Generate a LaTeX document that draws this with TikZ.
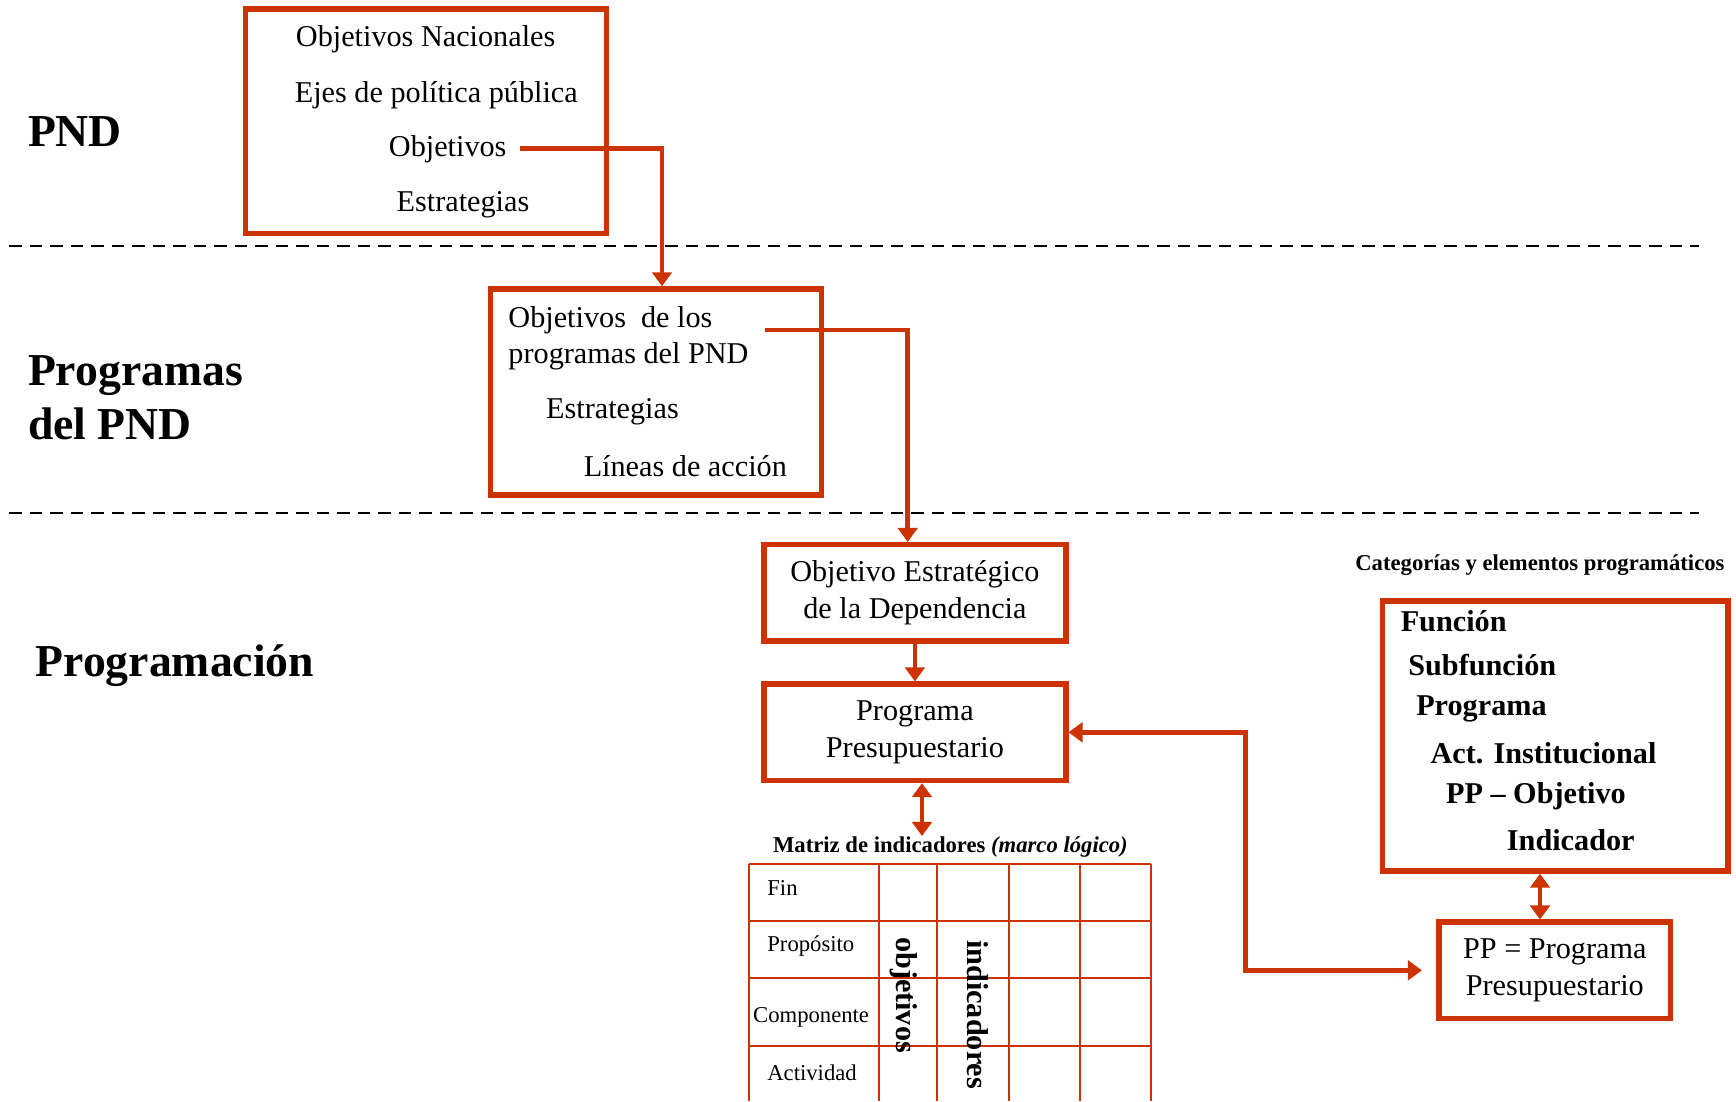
\documentclass[tikz,border=0pt]{standalone}
\usepackage{fontspec}
\setmainfont{Liberation Serif}
\usetikzlibrary{arrows.meta,positioning,calc}
\definecolor{pndred}{RGB}{204,51,0}

\begin{document}
\begin{tikzpicture}[x=0.2mm, y=-0.2mm,
    redbox/.style={draw=pndred, line width=1.05mm, inner sep=0pt},
    link/.style={draw=pndred, line width=0.95mm, >={Triangle[length=2.8mm, width=3.9mm]}},
    boxtxt/.style={font=\fontsize{17.2}{20.8}\selectfont, align=center},
    txt/.style={font=\fontsize{17.2}{20.8}\selectfont, inner sep=0pt, yshift=-0.6mm},
    bigtxt/.style={font=\fontsize{26}{31}\selectfont\bfseries, inner sep=0pt, align=left, yshift=-0.4mm},
    boldtxt/.style={font=\fontsize{17.2}{20.8}\selectfont\bfseries, inner sep=0pt, yshift=-0.6mm},
    smalltxt/.style={font=\fontsize{12.9}{15}\selectfont, inner sep=0pt, yshift=-0.4mm},
    every node/.style={text=black}]
    \useasboundingbox (0,0) rectangle (1736,1101);

    % Level separators
    \draw[line width=0.4mm, dash pattern=on 2.5mm off 1.6mm] (9,245.8) -- (1699,245.8);
    \draw[line width=0.4mm, dash pattern=on 2.5mm off 1.6mm] (9,512.6) -- (1699,512.6);

    % Level labels
    \node[bigtxt, anchor=west] (lpnd) at (27.7,129.5) {PND};
    \node[bigtxt, anchor=west] (lprog) at (27.7,395.7) {Programas\\del PND};
    \node[bigtxt, anchor=west] (lpresup) at (35.4,664) {Programación};

    % PND box
    \node[redbox, minimum width=72.2mm, minimum height=44.9mm] (pndbox) at (426.2,121.3) {};
    \node[txt, anchor=west] (pndnac) at (295.6,36.5) {Objetivos Nacionales};
    \node[txt, anchor=west] (pndejes) at (294.5,91.9) {Ejes de política pública};
    \node[txt, anchor=west] (pndobj) at (388.6,146.1) {Objetivos};
    \node[txt, anchor=west] (pndest) at (396.3,201.5) {Estrategias};

    % Programas del PND box
    \node[redbox, minimum width=66.2mm, minimum height=41.2mm] (progbox) at (655.9,391.9) {};
    \node[txt, anchor=west] (progobj) at (508.1,317.7) {Objetivos~ de los};
    \node[txt, anchor=west] (progpnd) at (508.1,353.1) {programas del PND};
    \node[txt, anchor=west] (progest) at (545.8,408.5) {Estrategias};
    \node[txt, anchor=west] (proglin) at (583.4,462.7) {Líneas de acción};

    % Programacion boxes
    \node[redbox, boxtxt, minimum width=60.4mm, minimum height=19.3mm] (objbox) at (914.9,592.8) {Objetivo Estratégico\\de la Dependencia};
    \node[redbox, boxtxt, minimum width=60.4mm, minimum height=19.3mm] (ppbox) at (914.9,732.3) {Programa\\Presupuestario};

    % Matriz de indicadores
    \node[smalltxt, font=\fontsize{12.9}{15}\selectfont\bfseries] (mtitle) at (950.4,844.6) {Matriz de indicadores \textit{(marco lógico)}};
    \foreach \x in {749.4,879,936.5,1008.5,1080.4,1151.3} {
        \draw[pndred, line width=0.4mm] (\x,863.5) -- (\x,1101);
    }
    \foreach \y in {863.5,921,977.5,1046.1} {
        \draw[pndred, line width=0.4mm] (749.4,\y) -- (1151.3,\y);
    }
    \node[smalltxt, anchor=west] (mfin) at (767,885.6) {Fin};
    \node[smalltxt, anchor=west] (mprop) at (767,944.3) {Propósito};
    \node[smalltxt, anchor=west] (mcomp) at (752.8,1015) {Componente};
    \node[smalltxt, anchor=west] (mact) at (767,1070.5) {Actividad};
    \node[boldtxt, yshift=0.6mm, rotate=-90] (mobj) at (903.3,995) {objetivos};
    \node[boldtxt, yshift=0.6mm, rotate=-90] (mind) at (977.5,1014.6) {indicadores};

    % Categorias programaticas
    \node[smalltxt, font=\fontsize{12.9}{15}\selectfont\bfseries] (cattitle) at (1539.9,563.5) {Categorías y elementos programáticos};
    \node[redbox, minimum width=69.1mm, minimum height=54mm] (catbox) at (1555.3,736.1) {};
    \node[boldtxt, anchor=west] (catfun) at (1400.4,617.7) {Función};
    \node[boldtxt, anchor=west] (catsub) at (1408,662) {Subfunción};
    \node[boldtxt, anchor=west] (catprog) at (1415.9,706.3) {Programa};
    \node[boldtxt, anchor=west] (catact) at (1430.2,750.5) {Act. Institucional};
    \node[boldtxt, anchor=west] (catobj) at (1445.7,793.7) {PP -- Objetivo};
    \node[boldtxt, anchor=west] (catind) at (1506.6,836.9) {Indicador};
    \node[redbox, boxtxt, minimum width=46.3mm, minimum height=19.3mm] (ppdef) at (1554.8,970.3) {PP = Programa\\Presupuestario};

    % Connectors
    \coordinate (a1) at (520.3,148.3);
    \coordinate (a2) at (765,329.9);
    \coordinate (bendx) at (1245.4,0);
    \draw[link, ->] (a1) -| ([xshift=1.22mm]progbox.north);
    \draw[link, ->] (a2) -| ([xshift=-1.44mm]objbox.north);
    \draw[link, ->] (objbox) -- (ppbox);
    \draw[link, <->] ([xshift=1.42mm]ppbox.south) -- ([xshift=1.42mm]ppbox.south |- mtitle.north);
    \draw[link, <->] (ppbox.east) -- (ppbox.east -| bendx) |- ([xshift=-2.9mm]ppdef.west);
    \draw[link, <->] ([xshift=-3.06mm]catbox.south) -- ([xshift=-3.06mm]catbox.south |- ppdef.north);
\end{tikzpicture}
\end{document}
